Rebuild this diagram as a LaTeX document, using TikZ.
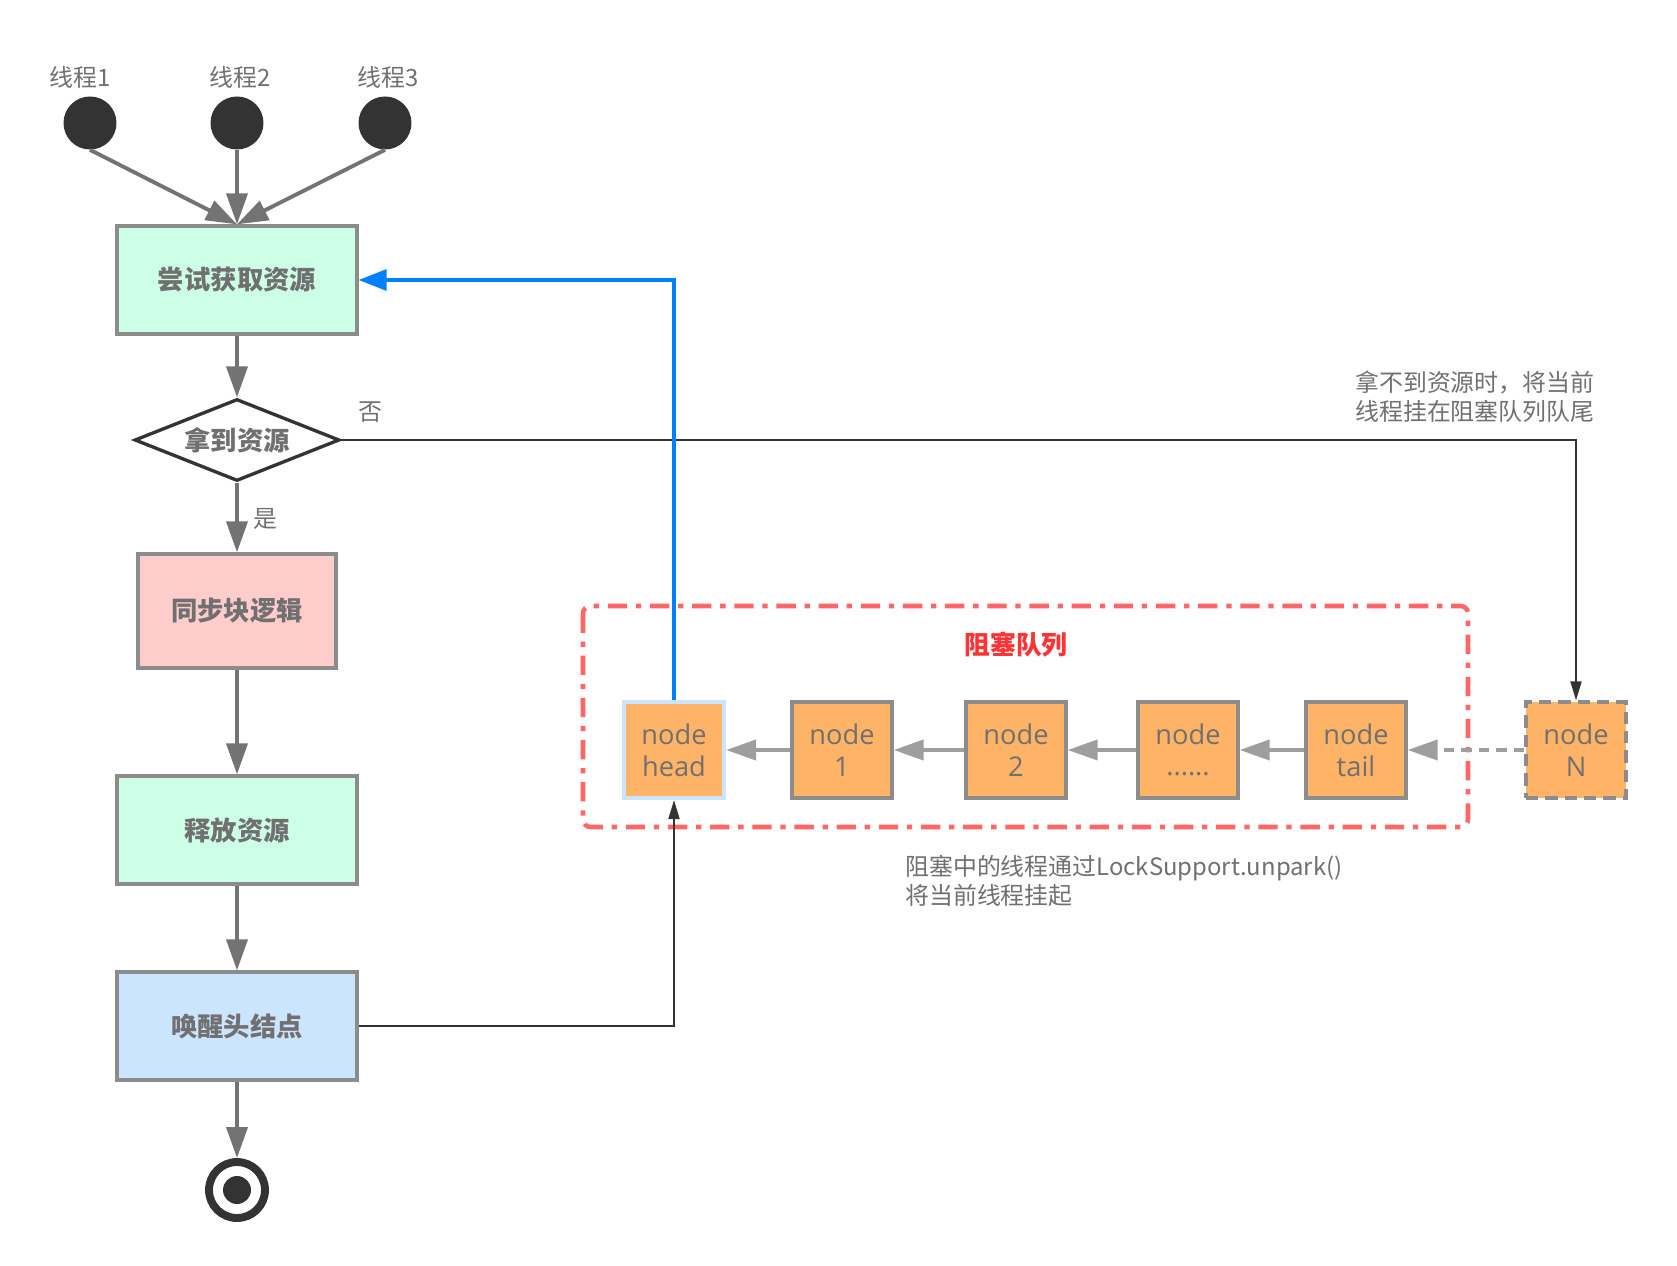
\documentclass[tikz,border=0pt]{standalone}
\usepackage{fontspec}
\setmainfont{Noto Sans CJK SC}
\newfontfamily\latinfont{Open Sans}
\usetikzlibrary{arrows.meta,shapes.geometric}

\definecolor{mintfill}{HTML}{CCFFE6}
\definecolor{pinkfill}{HTML}{FFCCCC}
\definecolor{bluefill}{HTML}{CCE5FF}
\definecolor{boxline}{HTML}{8C8C8C}
\definecolor{textgray}{HTML}{707070}
\definecolor{darkline}{HTML}{333333}
\definecolor{flowgray}{HTML}{737373}
\definecolor{chaingray}{HTML}{9E9E9E}
\definecolor{nodeorange}{HTML}{FFB366}
\definecolor{queuered}{HTML}{FF6666}
\definecolor{labelred}{HTML}{FF3333}
\definecolor{wakeblue}{HTML}{007FFF}

\tikzset{
  thread/.style={circle,fill=darkline,minimum size=1.06cm,inner sep=0pt},
  threadlbl/.style={text=textgray,font=\fontsize{13.6pt}{16pt}\selectfont,inner sep=0pt},
  flowbox/.style={draw=boxline,line width=1.9pt,minimum width=4.8cm,minimum height=2.16cm,
    text=textgray,font=\bfseries\fontsize{15pt}{17pt}\selectfont},
  decision/.style={diamond,aspect=2.5,draw=darkline,line width=1.9pt,fill=white,
    minimum width=4.1cm,minimum height=1.64cm,inner sep=0pt,
    text=textgray,font=\bfseries\fontsize{15pt}{17pt}\selectfont},
  endpt/.style={circle,draw=darkline,line width=4.5pt,minimum size=1.12cm,inner sep=0pt},
  flowlbl/.style={text=textgray,font=\fontsize{13.6pt}{16pt}\selectfont,inner sep=0pt},
  flowarrow/.style={draw=flowgray,line width=2.2pt,-{Triangle[length=0.62cm,width=0.42cm]}},
  thinarrow/.style={draw=darkline,line width=1.1pt,-{Triangle[length=0.38cm,width=0.22cm]}},
  bluearrow/.style={draw=wakeblue,line width=1.8pt,-{Triangle[length=0.56cm,width=0.42cm]}},
  chainarrow/.style={draw=chaingray,line width=2.3pt,-{Triangle[length=0.6cm,width=0.4cm]}},
  qnode/.style={draw=boxline,fill=nodeorange,line width=1.9pt,minimum width=2cm,minimum height=1.92cm,
    inner sep=0pt,align=center,text=textgray,font=\latinfont\fontsize{15.5pt}{18pt}\selectfont},
  queuebox/.style={draw=queuered,line width=2.6pt,rounded corners=0.15cm,
    dash pattern=on 11pt off 5pt on 3pt off 5pt},
  queuetitle/.style={text=labelred,font=\bfseries\fontsize{14.7pt}{17pt}\selectfont,inner sep=0pt},
  note/.style={text=textgray,align=left,inner sep=0pt,font=\fontsize{13.6pt}{16.5pt}\selectfont}
}

\begin{document}
\begin{tikzpicture}[x=0.02cm,y=-0.02cm]
\useasboundingbox (0,0) rectangle (1677,1266);

% threads
\node[thread] (t1) at (90,123) {};
\node[thread] (t2) at (237,123) {};
\node[thread] (t3) at (385,123) {};
\node[threadlbl] (l1) at (80,77) {线程1};
\node[threadlbl] (l2) at (240,77) {线程2};
\node[threadlbl] (l3) at (388,77) {线程3};

% main flow
\node[flowbox,fill=mintfill] (tryget) at (237,280) {尝试获取资源};
\node[decision] (decide) at (237,440) {拿到资源};
\node[flowbox,fill=pinkfill,minimum width=3.96cm,minimum height=2.28cm] (sync) at (237,611) {同步块逻辑};
\node[flowbox,fill=mintfill] (release) at (237,830) {释放资源};
\node[flowbox,fill=bluefill] (wake) at (237,1026) {唤醒头结点};
\node[endpt] (finish) at (237,1190) {};
\fill[darkline] (finish.center) circle (0.28cm);
\node[flowlbl] (nolbl) at (370,412) {否};
\node[flowlbl] (yeslbl) at (265,519) {是};

% blocking queue
\draw[queuebox] (583,606) rectangle (1468,827);
\node[queuetitle] (qtitle) at (1016,645) {阻塞队列};
\node[qnode,draw=bluefill,line width=2.4pt] (head) at (674,750) {node\\head};
\node[qnode] (n1) at (842,750) {node\\1};
\node[qnode] (n2) at (1016,750) {node\\2};
\node[qnode] (ndots) at (1188,750) {node\\......};
\node[qnode] (tail) at (1356,750) {node\\tail};
\node[qnode,dash pattern=on 7pt off 4pt] (nodeN) at (1576,750) {node\\N};

\node[note,anchor=west] (note1) at (1355,397) {拿不到资源时，将当前\\线程挂在阻塞队列队尾};
\node[note,anchor=west] (note2) at (905,881) {阻塞中的线程通过LockSupport.unpark()\\将当前线程挂起};

% connectors
\draw[flowarrow] (t1.south) -- (tryget.north);
\draw[flowarrow] (t2) -- (tryget.north);
\draw[flowarrow] (t3.south) -- (tryget.north);
\draw[flowarrow] (tryget) -- (decide);
\draw[flowarrow] (decide) -- (sync);
\draw[flowarrow] (sync) -- (release);
\draw[flowarrow] (release) -- (wake);
\draw[flowarrow] (wake) -- (finish);
\draw[thinarrow] (decide.east) -| (nodeN.north);
\draw[bluearrow] (head.north) |- (tryget.east);
\draw[thinarrow] (wake.east) -| (head.south);
\draw[chainarrow] (n1) -- (head);
\draw[chainarrow] (n2) -- (n1);
\draw[chainarrow] (ndots) -- (n2);
\draw[chainarrow] (tail) -- (ndots);
\draw[chainarrow,dash pattern=on 6pt off 4pt] (nodeN) -- (tail);
\end{tikzpicture}
\end{document}
